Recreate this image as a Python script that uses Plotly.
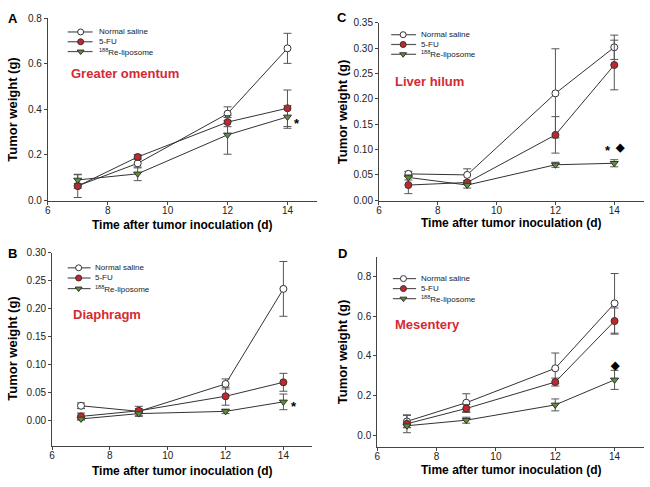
import plotly.graph_objects as go

W, H = 650, 487

# ---------------- data ----------------
days = [7, 9, 12, 14]
series_names = ["Normal saline", "5-FU", "<sup>188</sup>Re-liposome"]

A_saline = [0.063, 0.162, 0.380, 0.667]
A_saline_err = [0.010, 0.020, 0.030, 0.066]
A_5fu = [0.062, 0.190, 0.343, 0.404]
A_5fu_err = [0.050, 0.010, 0.020, 0.080]
A_re = [0.089, 0.116, 0.287, 0.366]
A_re_err = [0.025, 0.030, 0.085, 0.050]

B_saline = [0.026, 0.016, 0.065, 0.235]
B_saline_err = [0.005, 0.009, 0.009, 0.049]
B_5fu = [0.007, 0.017, 0.043, 0.068]
B_5fu_err = [0.006, 0.004, 0.016, 0.016]
B_re = [0.0025, 0.012, 0.016, 0.033]
B_re_err = [0.002, 0.003, 0.004, 0.014]

C_saline = [0.052, 0.050, 0.211, 0.302]
C_saline_err = [0.005, 0.012, 0.088, 0.024]
C_5fu = [0.030, 0.035, 0.129, 0.267]
C_5fu_err = [0.017, 0.004, 0.036, 0.049]
C_re = [0.045, 0.030, 0.070, 0.073]
C_re_err = [0.005, 0.006, 0.005, 0.007]

D_saline = [0.070, 0.164, 0.337, 0.664]
D_saline_err = [0.030, 0.045, 0.077, 0.150]
D_5fu = [0.058, 0.135, 0.268, 0.575]
D_5fu_err = [0.045, 0.020, 0.020, 0.066]
D_re = [0.048, 0.076, 0.153, 0.279]
D_re_err = [0.010, 0.015, 0.030, 0.048]

x_ticks = [6, 8, 10, 12, 14]
A_yticks = [0.0, 0.2, 0.4, 0.6, 0.8]
B_yticks = [0.00, 0.05, 0.10, 0.15, 0.20, 0.25, 0.30]
C_yticks = [0.00, 0.05, 0.10, 0.15, 0.20, 0.25, 0.30, 0.35]
D_yticks = [0.0, 0.2, 0.4, 0.6, 0.8]

panel_letters = ["A", "B", "C", "D"]
panel_titles = ["Greater omentum", "Diaphragm", "Liver hilum", "Mesentery"]
# significance marks: (text, x, y)
A_marks = [("*", 14.33, 0.351)]
B_marks = [("*", 14.35, 0.030)]
C_marks = [("*", 13.79, 0.105), ("\u25c6", 14.19, 0.106)]
D_marks = [("\u25c6", 14.01, 0.356)]

# ---------------- styling ----------------
FONT = "Arial, Liberation Sans, sans-serif"
LINE_C = "#333333"
AXIS_C = "#444444"
ERR_C = "#555555"
RED_T = "#d42a33"
marker_styles = [
    dict(symbol="circle", color="white", size=7, line=dict(color="#333333", width=1)),
    dict(symbol="circle", color="#c1272d", size=7, line=dict(color="#333333", width=1)),
    dict(symbol="triangle-down", color="#5f8f35", size=7, line=dict(color="#333333", width=1)),
]

def px(x):
    return x / W

def py(y):
    return 1 - y / H

# panel geometry in pixels
panels = [
    dict(id="", data=[(A_saline, A_saline_err), (A_5fu, A_5fu_err), (A_re, A_re_err)],
         x0=45.0, xpu=30.1, ypix0=198.3, ypu=232.5, ytop=12.3, ybot=199.3,
         yticks=A_yticks, fmt=".1f", marks=A_marks,
         title_xy=(66.7, 69), letter_xy=(10, 12.5), ytitle_xy=(10, 106), xtitle_xy=(180, 223.5),
         leg=dict(lx0=65, lx1=90, mx=78, tx=94, rows=[26.5, 36.5, 46.5])),
    dict(id="2", data=[(B_saline, B_saline_err), (B_5fu, B_5fu_err), (B_re, B_re_err)],
         x0=49.3, xpu=29.05, ypix0=423.0, ypu=571.0, ytop=251.7, ybot=449.0,
         yticks=B_yticks, fmt=".2f", marks=B_marks,
         title_xy=(68.3, 315), letter_xy=(10, 252.5), ytitle_xy=(10, 350), xtitle_xy=(180, 475),
         leg=dict(lx0=65, lx1=88, mx=76, tx=90.5, rows=[267.3, 277.7, 288.5])),
    dict(id="3", data=[(C_saline, C_saline_err), (C_5fu, C_5fu_err), (C_re, C_re_err)],
         x0=377.7, xpu=29.55, ypix0=198.3, ypu=517.1, ytop=17.3, ybot=199.3,
         yticks=C_yticks, fmt=".2f", marks=C_marks,
         title_xy=(391.7, 76.7), letter_xy=(341, 11.5), ytitle_xy=(341, 108), xtitle_xy=(510, 222),
         leg=dict(lx0=390, lx1=415, mx=402, tx=418, rows=[29.3, 39.3, 49.3])),
    dict(id="4", data=[(D_saline, D_saline_err), (D_5fu, D_5fu_err), (D_re, D_re_err)],
         x0=376.0, xpu=29.8, ypix0=438.3, ypu=202.9, ytop=256.0, ybot=450.0,
         yticks=D_yticks, fmt=".1f", marks=D_marks,
         title_xy=(391.7, 325), letter_xy=(341, 253), ytitle_xy=(341, 353), xtitle_xy=(510, 473.5),
         leg=dict(lx0=391.7, lx1=415, mx=402.3, tx=417.7, rows=[278.3, 288.5, 298.8])),
]

fig = go.Figure()
layout = dict(width=W, height=H, margin=dict(l=0, r=0, t=0, b=0),
              paper_bgcolor="white", plot_bgcolor="rgba(0,0,0,0)",
              showlegend=False, font=dict(family=FONT, color="black"))
annotations = []

for i, p in enumerate(panels):
    xa = "x" + p["id"]
    ya = "y" + p["id"]
    for k, (vals, errs) in enumerate(p["data"]):
        fig.add_trace(go.Scatter(
            x=days, y=vals, xaxis=xa, yaxis=ya, mode="lines+markers",
            line=dict(color=LINE_C, width=1),
            marker=marker_styles[k],
            error_y=dict(type="data", array=errs, visible=True, color=ERR_C, thickness=1, width=4),
            name=series_names[k],
        ))
    xd0 = p["x0"]
    xd1 = p["x0"] + 9 * p["xpu"]
    ymin = -(p["ybot"] - p["ypix0"]) / p["ypu"]
    ymax = (p["ypix0"] - p["ytop"]) / p["ypu"]
    layout["xaxis" + p["id"]] = dict(
        domain=[px(xd0), px(xd1)], range=[6, 15], anchor=ya, tickvals=x_ticks,
        showline=True, linecolor=AXIS_C, linewidth=1, ticks="outside", ticklen=3,
        tickcolor=AXIS_C, showgrid=False, zeroline=False, ticklabelstandoff=-3,
        tickfont=dict(size=10, family=FONT, color="#222"),
    )
    layout["yaxis" + p["id"]] = dict(
        domain=[py(p["ybot"]), py(p["ytop"])], range=[ymin, ymax], anchor=xa,
        tickvals=p["yticks"], tickformat=p["fmt"],
        showline=True, linecolor=AXIS_C, linewidth=1, ticks="outside", ticklen=3,
        tickcolor=AXIS_C, showgrid=False, zeroline=False,
        tickfont=dict(size=10, family=FONT, color="#222"),
    )
    tx, ty = p["title_xy"]
    annotations.append(dict(x=px(tx), y=py(ty), xref="paper", yref="paper", text="<b>%s</b>" % panel_titles[i],
                            showarrow=False, xanchor="left", yanchor="middle",
                            font=dict(size=13, color=RED_T, family=FONT)))
    lx, ly = p["letter_xy"]
    annotations.append(dict(x=px(lx), y=py(ly), xref="paper", yref="paper", text="<b>%s</b>" % panel_letters[i],
                            showarrow=False, xanchor="center", yanchor="middle",
                            font=dict(size=13, color="black", family=FONT)))
    yx, yy = p["ytitle_xy"]
    annotations.append(dict(x=px(yx), y=py(yy), xref="paper", yref="paper", text="<b>Tumor weight (g)</b>",
                            showarrow=False, xanchor="center", yanchor="middle", textangle=-90,
                            font=dict(size=13, color="black", family=FONT)))
    xx, xy = p["xtitle_xy"]
    annotations.append(dict(x=px(xx), y=py(xy), xref="paper", yref="paper",
                            text="<b>Time after tumor inoculation (d)</b>",
                            showarrow=False, xanchor="center", yanchor="middle",
                            font=dict(size=12, color="black", family=FONT)))
    for (t, mx, my) in p["marks"]:
        annotations.append(dict(x=mx, y=my, xref=xa, yref=ya, text="<b>%s</b>" % t, showarrow=False,
                                xanchor="center", yanchor="middle",
                                yshift=-3 if t == "*" else 0,
                                font=dict(size=13 if t == "*" else 11, color="black", family=FONT)))

# legend drawn on a pixel overlay axis
layout["xaxis5"] = dict(domain=[0, 1], range=[0, W], visible=False, anchor="y5", fixedrange=True)
layout["yaxis5"] = dict(domain=[0, 1], range=[H, 0], visible=False, anchor="x5", fixedrange=True)
for p in panels:
    lg = p["leg"]
    for k, ry in enumerate(lg["rows"]):
        fig.add_trace(go.Scatter(x=[lg["lx0"], lg["lx1"]], y=[ry, ry], xaxis="x5", yaxis="y5",
                                 mode="lines", line=dict(color="#555555", width=1.2), hoverinfo="skip"))
        ms = dict(marker_styles[k])
        ms["size"] = 6
        fig.add_trace(go.Scatter(x=[lg["mx"]], y=[ry], xaxis="x5", yaxis="y5",
                                 mode="markers", marker=ms, hoverinfo="skip"))
        annotations.append(dict(x=px(lg["tx"]), y=py(ry), xref="paper", yref="paper",
                                text=series_names[k], showarrow=False, xanchor="left", yanchor="middle",
                                font=dict(size=8, color="#222", family=FONT)))

layout["annotations"] = annotations
fig.update_layout(**layout)
fig.write_html("out.html", config={"displayModeBar": False},
               post_script="document.body.style.margin='0';document.body.style.overflow='hidden';")
